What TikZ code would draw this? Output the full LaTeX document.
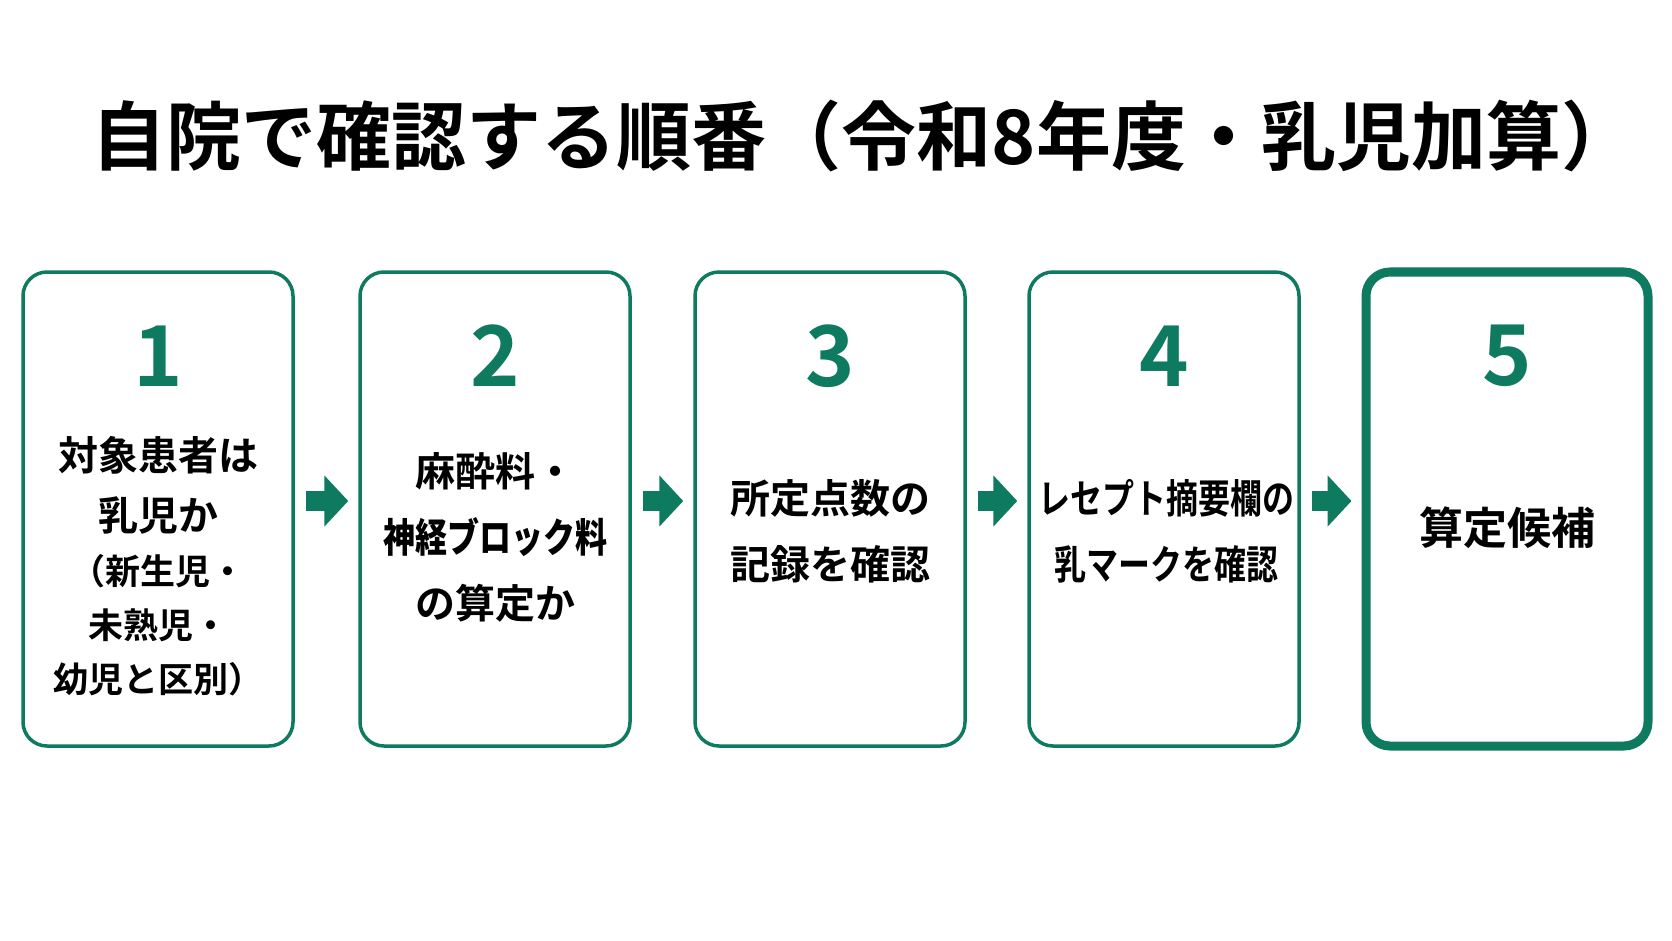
\documentclass[tikz,border=0pt]{standalone}
\usepackage{fontspec}
\setmainfont{Noto Sans CJK JP}[BoldFont=* Bold]
\newfontfamily\condjp{Noto Sans CJK JP Bold}[FakeStretch=0.8]
\usetikzlibrary{arrows.meta}
\definecolor{stepgreen}{HTML}{0E7A5F}

\begin{document}
\begin{tikzpicture}[
        x = 1pt, y = -1pt,
        box/.style = {draw = stepgreen, line width = 3.5pt, rounded corners = 24pt,
            minimum width = 270pt, minimum height = 474pt, inner sep = 0pt},
        num/.style = {text = stepgreen, font = \fontsize{84}{84}\bfseries},
        lbl/.style = {align = center, font = \fontsize{40}{66}\bfseries},
        flowarrow/.style = {stepgreen, line width = 20pt, shorten <= 11pt, shorten >= 10pt,
            -{Triangle[length = 24pt, width = 50pt]}}
    ]

        % Page.
        \useasboundingbox (0, 0) rectangle (1672, 941);

        % Title.
        \node[font = \fontsize{75}{75}\bfseries] (title) at (864, 136)
            {自院で確認する順番（令和8年度・乳児加算）};

        % Boxes.
        \node[box] (step1) at (158, 509) {};
        \node[box] (step2) at (495, 509) {};
        \node[box] (step3) at (830, 509) {};
        \node[box] (step4) at (1164, 509) {};
        \node[box, line width = 9pt, minimum width = 282pt, minimum height = 474pt]
            (step5) at (1507, 509) {};

        % Numbers.
        \foreach \n/\x in {1/158, 2/495, 3/830, 4/1164, 5/1507}{%
            \node[num] (num\n) at (\x, 356) {\n};
        }

        % Texts.
        \node[lbl, font = \fontsize{40}{60}\bfseries] (text1) at (158, 566)
            {対象患者は\\乳児か\\[-6pt]{\fontsize{35}{50}\selectfont（新生児・}\\[-6pt]
             {\fontsize{35}{50}\selectfont 未熟児・}\\[-6pt]{\fontsize{35}{50}\selectfont 幼児と区別）}};
        \node[lbl] (text2) at (495, 537) {麻酔料・\\{\condjp 神経ブロック料}\\の算定か};
        \node[lbl] (text3) at (830, 531) {所定点数の\\記録を確認};
        \node[lbl, font = \fontsize{40}{66}\condjp] (text4) at (1166, 531)
            {レセプト摘要欄の\\乳マークを確認};
        \node[lbl, font = \fontsize{44}{66}\bfseries] (text5) at (1507, 528) {算定候補};

        % Arrows.
        \foreach \a/\b in {1/2, 2/3, 3/4, 4/5}{%
            \draw[flowarrow] (step\a.east |- 0, 501) to (step\b.west |- 0, 501);
        }
    \end{tikzpicture}
\end{document}
